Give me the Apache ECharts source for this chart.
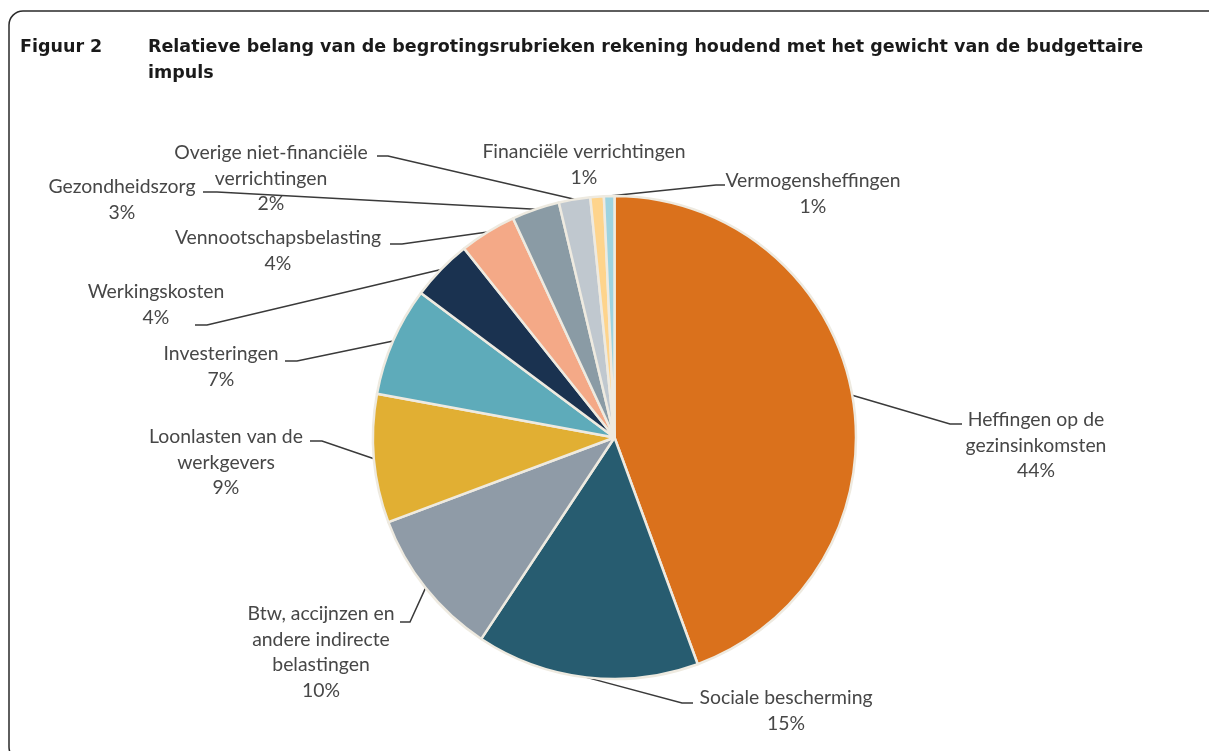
<!DOCTYPE html>
<html>
<head>
<meta charset="utf-8">
<script src="https://cdn.jsdelivr.net/npm/echarts@6/dist/echarts.min.js"></script>
<style>
  html, body { margin: 0; padding: 0; background: #ffffff; }
  #chart { width: 1209px; height: 751px; }
</style>
</head>
<body>
<div id="chart"></div>
<script>
// Budget headings (clockwise from 12 o'clock) and their weight in the impulse, in %
const categories = [
  'Heffingen op de\ngezinsinkomsten',
  'Sociale bescherming',
  'Btw, accijnzen en\nandere indirecte\nbelastingen',
  'Loonlasten van de\nwerkgevers',
  'Investeringen',
  'Werkingskosten',
  'Vennootschapsbelasting',
  'Gezondheidszorg',
  'Overige niet-financiële\nverrichtingen',
  'Financiële verrichtingen',
  'Vermogensheffingen'
];
const shares = [44.4, 14.9, 10.0, 8.6, 7.3, 4.1, 3.8, 3.2, 2.1, 0.9, 0.7];
const sliceColors = [
  '#DA711C', '#275C70', '#8F9BA7', '#E1AF33', '#5EABBA', '#1A3250',
  '#F4A987', '#8A9BA5', '#C0C8CF', '#FED48C', '#9DD3E0'
];

// Where each label sits: centre x, centre of its first line, and the
// short horizontal stub of its leader line [stub end at label, elbow].
const labelPlacement = [
  { cx: 1036, y1: 420, stub: [[962, 424], [950, 424]] },
  { cx: 786,  y1: 698, stub: [[693, 703], [682, 703]] },
  { cx: 321,  y1: 614, stub: [[400, 622], [410, 622]] },
  { cx: 226,  y1: 437, stub: [[310, 441], [322, 441]] },
  { cx: 221,  y1: 354, stub: [[285, 361], [297, 361]] },
  { cx: 156,  y1: 292, stub: [[195, 325], [207, 325]] },
  { cx: 278,  y1: 238, stub: [[390, 244], [402, 244]] },
  { cx: 122,  y1: 187, stub: [[203, 192], [217, 192]] },
  { cx: 271,  y1: 153, stub: [[377, 156], [388, 156]] },
  { cx: 584,  y1: 152, stub: null },
  { cx: 813,  y1: 181, stub: [[725, 185], [716, 185]] }
];

const PIE_CENTER = [614.5, 437.5];
const PIE_RADIUS = 241.5;
const LINE_H = 25.5;

const total = shares.reduce((a, b) => a + b, 0);
// Anchor of each leader line: slice mid-angle on the outer rim
const anchors = [];
let acc = 0;
shares.forEach(v => {
  const mid = (acc + v / 2) / total * Math.PI * 2; // clockwise from top
  anchors.push([
    PIE_CENTER[0] + PIE_RADIUS * Math.sin(mid),
    PIE_CENTER[1] - PIE_RADIUS * Math.cos(mid)
  ]);
  acc += v;
});

const chart = echarts.init(document.getElementById('chart'), null, { renderer: 'canvas' });

const titleFont = {
  fontFamily: 'DejaVu Sans',
  fontWeight: 'bold',
  fontSize: 17.5,
  color: '#1a1a1a',
  lineHeight: 26
};

chart.setOption({
  animation: false,
  backgroundColor: '#ffffff',
  title: [
    { text: 'Figuur 2', left: 15, top: 29, textStyle: titleFont },
    {
      text: 'Relatieve belang van de begrotingsrubrieken rekening houdend met het gewicht van de budgettaire\nimpuls',
      left: 143, top: 29, textStyle: titleFont
    }
  ],
  graphic: [
    {
      type: 'rect',
      shape: { x: 9, y: 11, width: 1216, height: 750, r: 14 },
      style: { fill: 'none', stroke: '#2a2a2a', lineWidth: 1.5 },
      z: 0
    }
  ],
  series: [{
    type: 'pie',
    center: PIE_CENTER,
    radius: PIE_RADIUS,
    startAngle: 90,
    clockwise: true,
    avoidLabelOverlap: false,
    itemStyle: { borderColor: '#EEEAE0', borderWidth: 2.5 },
    label: {
      show: true,
      position: 'outside',
      fontFamily: 'Lato',
      fontSize: 19.4,
      lineHeight: LINE_H,
      color: '#474747',
      align: 'center',
      formatter: p => p.name + '\n' + Math.round(p.value) + '%'
    },
    labelLine: {
      show: true,
      length: 10,
      length2: 10,
      lineStyle: { color: '#3a3a3a', width: 1.5 }
    },
    labelLayout: params => {
      const i = params.dataIndex;
      const pl = labelPlacement[i];
      const out = {
        x: pl.cx,
        y: pl.y1 - LINE_H / 2,
        align: 'center',
        verticalAlign: 'top'
      };
      if (pl.stub) {
        out.labelLinePoints = [anchors[i], pl.stub[1], pl.stub[0]];
      }
      return out;
    },
    data: categories.map((name, i) => ({
      name: name,
      value: shares[i],
      itemStyle: { color: sliceColors[i] },
      labelLine: { show: labelPlacement[i].stub !== null }
    }))
  }]
});
</script>
</body>
</html>
